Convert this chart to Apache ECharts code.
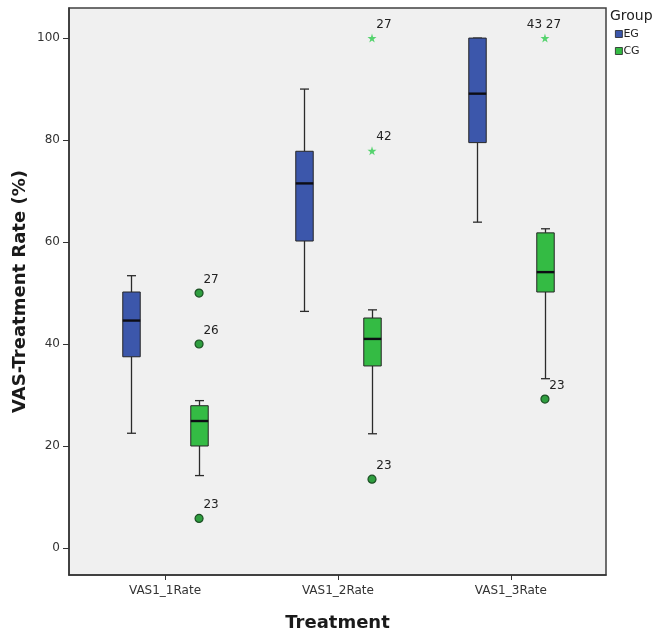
<!DOCTYPE html>
<html>
<head>
<meta charset="utf-8">
<title>VAS-Treatment Rate by Group</title>
<script src="https://cdn.jsdelivr.net/npm/echarts@6/dist/echarts.min.js"></script>
<style>
  html, body { margin: 0; padding: 0; background: #ffffff; }
  #chart { width: 658px; height: 636px; }
</style>
</head>
<body>
<div id="chart"></div>
<script>
// Treatment time points shown on the x axis
const categories = ['VAS1_1Rate', 'VAS1_2Rate', 'VAS1_3Rate'];
const groups = ['EG', 'CG'];
const yTicks = [0, 20, 40, 60, 80, 100];

// Box summaries per treatment: [lower whisker, Q1, median, Q3, upper whisker]
const egBoxes = [
  [22.5, 37.5, 44.6, 50.2, 53.4],
  [46.4, 60.2, 71.5, 77.8, 90.0],
  [63.9, 79.5, 89.1, 100.0, 100.0]
];
const cgBoxes = [
  [14.2, 20.0, 24.9, 27.9, 28.9],
  [22.4, 35.7, 41.0, 45.1, 46.7],
  [33.2, 50.2, 54.1, 61.8, 62.6]
];

// Outliers (circles) and extremes (stars) of the CG group: [treatment index, value, case id]
const cgOutliers = [
  [0, 50.0, '27'],
  [0, 40.0, '26'],
  [0, 5.8, '23'],
  [1, 13.5, '23'],
  [2, 29.2, '23']
];
const cgExtremes = [
  [1, 100.0, '27'],
  [1, 77.9, '42'],
  [2, 100.0, '43 27']
];

const COLORS = { EG: '#3c57ab', CG: '#34bb44' };
const GROUP_OFFSET = { EG: -0.197, CG: 0.197 };
const BOX_WIDTH = 0.101;   // in x-axis units
const CAP_WIDTH = 0.052;

function boxData(boxes, group) {
  return boxes.map((b, i) => [i + 1 + GROUP_OFFSET[group]].concat(b));
}

function pointData(points, group) {
  return points.map(p => ({ value: [p[0] + 1 + GROUP_OFFSET[group], p[1]], caseId: p[2] }));
}

function renderBox(params, api) {
  const x = api.value(0);
  const lo = api.coord([x, api.value(1)]);
  const q1 = api.coord([x, api.value(2)]);
  const med = api.coord([x, api.value(3)]);
  const q3 = api.coord([x, api.value(4)]);
  const hi = api.coord([x, api.value(5)]);
  const bw = api.size([BOX_WIDTH, 0])[0];
  const cw = api.size([CAP_WIDTH, 0])[0];
  const cx = Math.round(lo[0]) + 0.5;
  const lineStyle = { stroke: '#2b2b2b', lineWidth: 1.3 };
  return {
    type: 'group',
    children: [
      { type: 'line', shape: { x1: cx, y1: q3[1], x2: cx, y2: hi[1] }, style: lineStyle },
      { type: 'line', shape: { x1: cx, y1: q1[1], x2: cx, y2: lo[1] }, style: lineStyle },
      { type: 'line', shape: { x1: cx - cw / 2, y1: hi[1], x2: cx + cw / 2, y2: hi[1] }, style: lineStyle },
      { type: 'line', shape: { x1: cx - cw / 2, y1: lo[1], x2: cx + cw / 2, y2: lo[1] }, style: lineStyle },
      {
        type: 'rect',
        shape: { x: cx - bw / 2, y: q3[1], width: bw, height: q1[1] - q3[1] },
        style: { fill: api.visual('color'), stroke: '#262626', lineWidth: 1 }
      },
      { type: 'line', shape: { x1: cx - bw / 2, y1: med[1], x2: cx + bw / 2, y2: med[1] }, style: { stroke: '#0d0d14', lineWidth: 2.4 } }
    ]
  };
}

const caseLabel = {
  show: true,
  position: 'top',
  distance: 3,
  offset: [12, 0],
  formatter: p => p.data.caseId,
  fontFamily: 'DejaVu Sans',
  fontSize: 12,
  color: '#222222'
};

const STAR = 'path://M50,0 L61,35 L98,35 L68,57 L79,91 L50,70 L21,91 L32,57 L2,35 L39,35 Z';

const chart = echarts.init(document.getElementById('chart'), null, { renderer: 'canvas' });

chart.setOption({
  animation: false,
  backgroundColor: '#ffffff',
  title: {
    text: 'Group',
    left: 610,
    top: 9,
    padding: 0,
    textStyle: { fontFamily: 'DejaVu Sans', fontSize: 14, fontWeight: 'normal', color: '#222222' }
  },
  legend: {
    data: groups.map(g => ({ name: g, icon: 'rect' })),
    orient: 'vertical',
    left: 615,
    top: 28,
    padding: 0,
    itemWidth: 7,
    itemHeight: 7,
    itemGap: 5,
    itemStyle: { borderColor: '#222222', borderWidth: 0.8 },
    textStyle: { fontFamily: 'DejaVu Sans', fontSize: 11, color: '#222222', lineHeight: 12, padding: [0, 0, 0, -4] },
    selectedMode: false
  },
  grid: {
    left: 69,
    right: 52,
    top: 8,
    bottom: 61,
    containLabel: false,
    outerBoundsMode: 'none',
    show: true,
    backgroundColor: '#f0f0f0',
    borderColor: '#404040',
    borderWidth: 1.5
  },
  xAxis: {
    type: 'value',
    min: 0.445,
    max: 3.55,
    name: 'Treatment',
    nameLocation: 'middle',
    nameGap: 39,
    nameMoveOverlap: false,
    nameTextStyle: { fontFamily: 'DejaVu Sans', fontSize: 18, fontWeight: 'bold', color: '#1a1a1a' },
    axisLine: { show: true, onZero: false, lineStyle: { color: '#333333', width: 1.5 } },
    axisTick: { show: true, length: 5, customValues: [1, 2, 3], lineStyle: { color: '#333333' } },
    axisLabel: {
      customValues: [1, 2, 3],
      formatter: v => categories[Math.round(v) - 1],
      margin: 10,
      fontFamily: 'DejaVu Sans',
      fontSize: 12,
      color: '#333333'
    },
    splitLine: { show: false }
  },
  yAxis: {
    type: 'value',
    min: -5.3,
    max: 105.9,
    name: 'VAS-Treatment Rate (%)',
    nameLocation: 'middle',
    nameGap: 40,
    nameMoveOverlap: false,
    nameTextStyle: { fontFamily: 'DejaVu Sans', fontSize: 18, fontWeight: 'bold', color: '#1a1a1a' },
    axisLine: { show: true, onZero: false, lineStyle: { color: '#333333', width: 1.5 } },
    axisTick: { show: true, length: 6, customValues: yTicks, lineStyle: { color: '#333333' } },
    axisLabel: {
      customValues: yTicks,
      margin: 9,
      fontFamily: 'DejaVu Sans',
      fontSize: 12,
      color: '#333333'
    },
    splitLine: { show: false }
  },
  series: [
    {
      name: 'EG',
      type: 'custom',
      renderItem: renderBox,
      itemStyle: { color: COLORS.EG },
      encode: { x: 0, y: [1, 2, 3, 4, 5] },
      data: boxData(egBoxes, 'EG'),
      z: 2
    },
    {
      name: 'CG',
      type: 'custom',
      renderItem: renderBox,
      itemStyle: { color: COLORS.CG },
      encode: { x: 0, y: [1, 2, 3, 4, 5] },
      data: boxData(cgBoxes, 'CG'),
      z: 2
    },
    {
      name: 'CG outliers',
      type: 'scatter',
      symbol: 'circle',
      symbolSize: 8,
      itemStyle: { color: '#2f9e3f', borderColor: '#1d4f25', borderWidth: 1.2, opacity: 1 },
      label: caseLabel,
      data: pointData(cgOutliers, 'CG'),
      z: 3
    },
    {
      name: 'CG extremes',
      type: 'scatter',
      symbol: STAR,
      symbolSize: 9,
      itemStyle: { color: '#55d36e', opacity: 1 },
      label: caseLabel,
      data: pointData(cgExtremes, 'CG').map(d => d.caseId === '43 27'
        ? Object.assign(d, { label: { offset: [-1, 0] } })
        : d),
      z: 3
    }
  ]
});
</script>
</body>
</html>
